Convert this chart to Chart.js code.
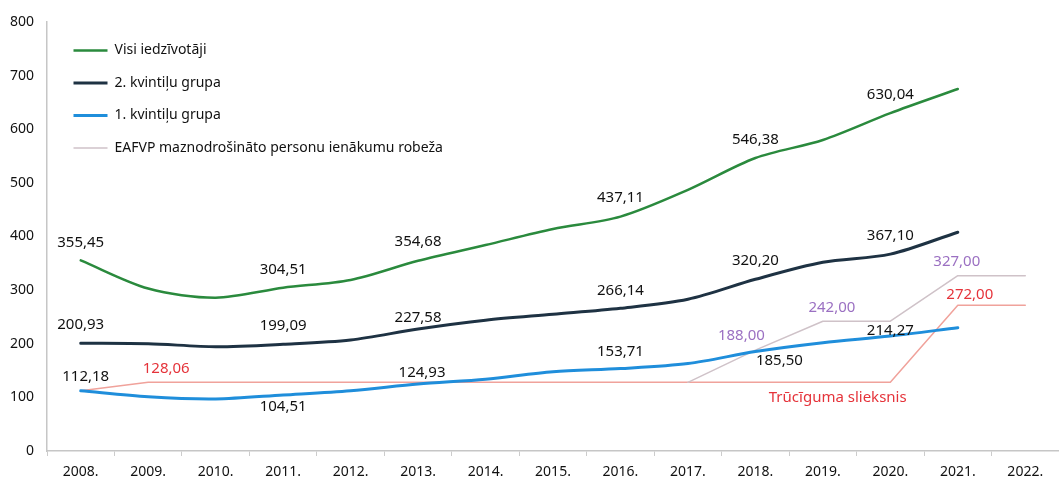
<!DOCTYPE html>
<html>
<head>
<meta charset="utf-8">
<script src="https://cdn.jsdelivr.net/npm/chart.js@4.4.1/dist/chart.umd.min.js"></script>
<style>
html,body{margin:0;padding:0;background:#ffffff;}
#wrap{position:relative;width:1059px;height:479px;}
</style>
</head>
<body>
<div id="wrap"><canvas id="c"></canvas></div>
<script>
// ---- data ----
const years = ['2008.','2009.','2010.','2011.','2012.','2013.','2014.','2015.','2016.','2017.','2018.','2019.','2020.','2021.','2022.'];
const allResidents     = [355.45, 303, 286, 304.51, 319, 354.68, 384, 414, 437.11, 487, 546.38, 580, 630.04, 675, null];
const quintile2        = [200.93, 200, 194.5, 199.09, 207, 227.58, 244, 255, 266.14, 283, 320.20, 352, 367.10, 408, null];
const quintile1        = [112.18, 101, 97, 104.51, 112.5, 124.93, 134, 148, 153.71, 163, 185.50, 202, 214.27, 230, null];
const eafvpLimit       = [null, null, null, null, null, null, null, null, null, 128.06, 188.00, 242.00, 242.00, 327.00, 327.00];
const povertyThreshold = [112.18, 128.06, 128.06, 128.06, 128.06, 128.06, 128.06, 128.06, 128.06, 128.06, 128.06, 128.06, 128.06, 272.00, 272.00];
const seriesNames = ['Visi iedzīvotāji', '2. kvintiļu grupa', '1. kvintiļu grupa', 'EAFVP maznodrošināto personu ienākumu robeža', 'Trūcīguma slieksnis'];
const yTickMin = 0, yTickMax = 800, yTickStep = 100;
// which points carry a value label
const labelledAll   = [0, 3, 5, 8, 10, 12];
const labelledQ2    = [0, 3, 5, 8, 10, 12];
const labelledQ1    = [0, 3, 5, 8, 10, 12];
const labelledEafvp = [10, 11, 13];
const labelledPov   = [1, 13];

// ---- styling / placement (not data) ----
const labelOffsets = {
  all:   [[0,-18],[0,-18],[0,-19],[0,-19],[0,-18],[0,-18]],
  q2:    [[0,-19],[0,-19],[0,-11],[0,-18],[0,-19],[0,-18]],
  q1:    [[5,-14],[0,12],[4,-11],[0,-17],[24,9],[0,-5]],
  eafvp: [[-14,-14],[9,-13],[-1,-14]],
  pov:   [[18,-14],[12,-10]]
};
const fmt = v => v.toFixed(2).replace('.', ',');
const FONT = '"Noto Sans", "DejaVu Sans", sans-serif';

const valueLabels = {
  id: 'valueLabels',
  afterDatasetsDraw(chart) {
    const ctx = chart.ctx;
    chart.data.datasets.forEach((ds, di) => {
      const vl = ds.valueLabels;
      if (!vl) return;
      const meta = chart.getDatasetMeta(di);
      ctx.save();
      ctx.font = '15px ' + FONT;
      ctx.fillStyle = vl.color;
      ctx.textAlign = 'center';
      ctx.textBaseline = 'middle';
      vl.at.forEach((idx, k) => {
        const p = meta.data[idx];
        const off = vl.offsets[k];
        ctx.fillText(fmt(ds.data[idx]), p.x + off[0], p.y + off[1]);
      });
      ctx.restore();
    });
    // series caption for the poverty threshold
    const xs = chart.scales.x, ys = chart.scales.y;
    ctx.save();
    ctx.font = '15px ' + FONT;
    ctx.fillStyle = '#e5333a';
    ctx.textAlign = 'center';
    ctx.textBaseline = 'middle';
    ctx.fillText(seriesNames[4], xs.getPixelForValue(11.22), ys.getPixelForValue(100));
    ctx.restore();
  }
};

const legendShift = {
  id: 'legendShift',
  afterLayout(chart) {
    if (chart.legend) { chart.legend.left += 8; chart.legend.top += 25; }
  }
};

const smooth = 0.3;
const datasets = [
  { label: seriesNames[0], data: allResidents, borderColor: '#2a8a3d', backgroundColor: '#2a8a3d', borderWidth: 2.5, tension: smooth,
    valueLabels: { at: labelledAll, offsets: labelOffsets.all, color: '#111111' } },
  { label: seriesNames[1], data: quintile2, borderColor: '#1e3243', backgroundColor: '#1e3243', borderWidth: 3, tension: smooth,
    valueLabels: { at: labelledQ2, offsets: labelOffsets.q2, color: '#111111' } },
  { label: seriesNames[2], data: quintile1, borderColor: '#1f8edb', backgroundColor: '#1f8edb', borderWidth: 3, tension: smooth,
    valueLabels: { at: labelledQ1, offsets: labelOffsets.q1, color: '#111111' } },
  { label: seriesNames[3], data: eafvpLimit, borderColor: '#cfc2c8', backgroundColor: '#cfc2c8', borderWidth: 1.5, tension: 0,
    valueLabels: { at: labelledEafvp, offsets: labelOffsets.eafvp, color: '#9b70c2' } },
  { label: seriesNames[4], data: povertyThreshold, borderColor: '#f0a29b', backgroundColor: '#f0a29b', borderWidth: 1.5, tension: 0,
    valueLabels: { at: labelledPov, offsets: labelOffsets.pov, color: '#e5333a' } }
];

new Chart(document.getElementById('c'), {
  type: 'line',
  data: { labels: years, datasets },
  options: {
    responsive: true,
    maintainAspectRatio: false,
    animation: false,
    devicePixelRatio: 1,
    spanGaps: false,
    elements: { point: { radius: 0, hoverRadius: 0 }, line: { borderCapStyle: 'round', borderJoinStyle: 'round' } },
    layout: { padding: { top: 22, right: -7, bottom: 0, left: 0 } },
    plugins: {
      tooltip: { enabled: false },
      legend: {
        position: 'chartArea',
        align: 'start',
        labels: {
          filter: item => item.datasetIndex < 4,
          usePointStyle: true,
          pointStyle: 'line',
          pointStyleWidth: 34,
          padding: 18.5,
          color: '#111111',
          font: { family: FONT, size: 14 }
        }
      }
    },
    scales: {
      x: {
        type: 'category',
        offset: true,
        grid: { drawOnChartArea: false, offset: true, tickLength: 5, color: '#cccccc' },
        border: { color: '#c6c6c6', width: 1.5 },
        ticks: { color: '#111111', font: { family: FONT, size: 14 }, padding: 8, maxRotation: 0, autoSkip: false },
        afterFit: s => { s.height = 28; }
      },
      y: {
        min: yTickMin, max: yTickMax,
        grid: { display: false, drawTicks: false },
        border: { color: '#c6c6c6', width: 1.5 },
        ticks: { stepSize: yTickStep, color: '#111111', font: { family: FONT, size: 14 }, padding: 13 },
        afterFit: s => { s.width = 47; }
      }
    }
  },
  plugins: [valueLabels, legendShift]
});
</script>
</body>
</html>
